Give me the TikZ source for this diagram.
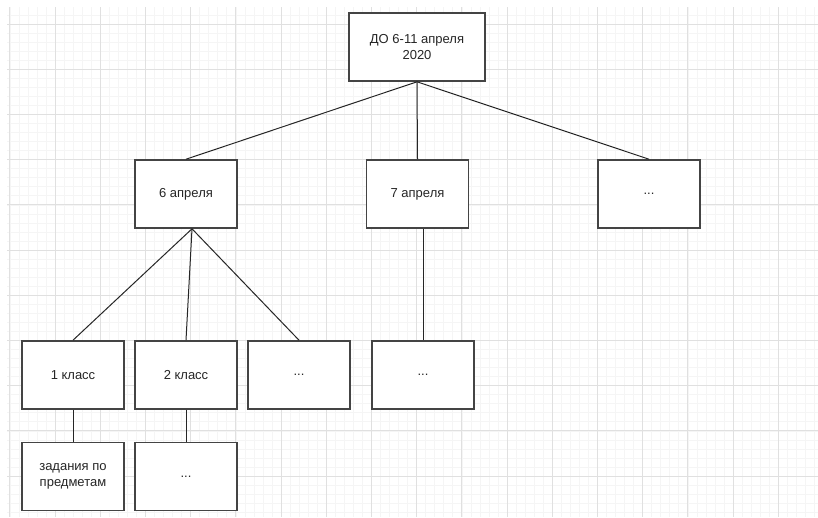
\documentclass[tikz,border=0pt]{standalone}
\usepackage{fontspec}
\setmainfont{Liberation Sans}
\usepackage{tikz}

\definecolor{gridminor}{HTML}{F5F5F5}
\definecolor{gridmajor}{HTML}{E0E0E0}
\definecolor{boxline}{HTML}{444444}

\begin{document}
\begin{tikzpicture}[x=1pt,y=-1pt,
	box/.style={draw=boxline,line width=1.6pt,fill=white,minimum width=102pt,minimum height=68pt,inner sep=2pt,align=center,text=black!85,font=\fontsize{13}{16}\selectfont},
	link/.style={draw=black!85,line width=1pt}]
	\useasboundingbox (0,0) rectangle (818,517);
	\fill[white] (0,0) rectangle (818,517);
	% grid
	\begin{scope}
		\clip (7,7) rectangle (818,517);
		\foreach \i in {0,1,...,89}
			\draw[gridminor,line width=0.6pt] (9.8+9.04*\i,7) -- (9.8+9.04*\i,517);
		\foreach \i in {-1,0,...,55}
			\draw[gridminor,line width=0.6pt] (7,24+9.04*\i) -- (818,24+9.04*\i);
		\foreach \i in {0,1,...,17}
			\draw[gridmajor,line width=0.8pt] (9.8+45.2*\i,7) -- (9.8+45.2*\i,517);
		\foreach \i in {0,1,...,10}
			\draw[gridmajor,line width=0.8pt] (7,24+45.2*\i) -- (818,24+45.2*\i);
	\end{scope}
	% boxes
	\node[box,minimum width=136pt] (top) at (417,47) {ДО 6-11 апреля\\2020};
	\node[box] (d6) at (186,194) {6 апреля};
	\node[box] (d7) at (417.5,194) {7 апреля};
	\node[box] (dn) at (649,194) {...};
	\node[box] (k1) at (73,375) {1 класс};
	\node[box] (k2) at (186,375) {2 класс};
	\node[box] (kn) at (299,375) {...};
	\node[box] (d7n) at (423,375) {...};
	\node[box] (z1) at (73,476.5) {задания по\\предметам};
	\node[box] (z2) at (186,476.5) {...};
	% links
	\coordinate (j6) at ([xshift=6pt]d6.south);
	\coordinate (j7) at ([xshift=5.5pt]d7.south);
	\foreach \b in {d6,d7,dn}
		\draw[link] (top.south) -- (\b.north);
	\foreach \b in {k1,k2,kn}
		\draw[link] (j6) -- (\b.north);
	\draw[link] (j7) -- (d7n.north);
	\draw[link] (k1.south) -- (z1.north);
	\draw[link] (k2.south) -- (z2.north);
\end{tikzpicture}
\end{document}
